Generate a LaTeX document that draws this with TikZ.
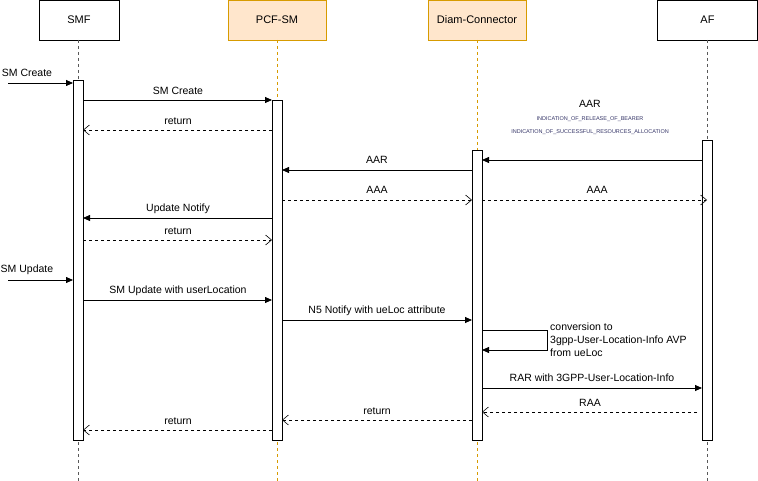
\documentclass[tikz,border=0pt]{standalone}
\usepackage{fontspec}
\setmainfont{Liberation Sans}
\usetikzlibrary{arrows.meta}
\definecolor{pfill}{HTML}{FFE6CC}
\definecolor{pdraw}{HTML}{D79B00}
\definecolor{small}{HTML}{333366}
\begin{document}
\begin{tikzpicture}[x=1pt,y=-1pt,font=\fontsize{11}{13}\selectfont,
 hdr/.style={draw,minimum width=80pt,minimum height=40pt,inner sep=0,fill=white},
 bar/.style={draw,fill=white,minimum width=10pt,inner sep=0},
 life/.style={dash pattern=on 3pt off 3pt,thin,gray!70!black},
 msg/.style={-{Triangle[length=7pt,width=6pt]},line width=0.8pt},
 ret/.style={-{Straight Barb[length=6pt,width=10pt]},dash pattern=on 3pt off 3pt,line width=0.6pt},
 lbl/.style={font=\fontsize{10.5}{12}\selectfont,inner sep=1pt}]
\useasboundingbox (0,0) rectangle (758,481);
\node[hdr] (smf) at (79,20) {SMF};
\node[hdr,fill=pfill,draw=pdraw,minimum width=98pt] (pcf) at (277,20) {PCF-SM};
\node[hdr,fill=pfill,draw=pdraw,minimum width=98pt] (dia) at (477,20) {Diam-Connector};
\node[hdr,minimum width=100pt] (af) at (707.5,20) {AF};
\draw[life] (78,40) -- (78,481);
\draw[life,pdraw] (277,40) -- (277,481);
\draw[life,pdraw] (477,40) -- (477,481);
\draw[life] (707,40) -- (707,481);
\node[bar,minimum height=360pt] (b1) at (78,260) {};
\node[bar,minimum height=340pt] (b2) at (277,270) {};
\node[bar,minimum height=290pt] (b3) at (477,295) {};
\node[bar,minimum height=300pt] (b4) at (707,290) {};
\coordinate (s1) at (8,83); \coordinate (t1) at (73,83);
\draw[msg] (s1) -- (t1); \node[lbl] at (27,73) {SM Create};
\draw[msg] (83,100) -- (272,100); \node[lbl] at (178,91) {SM Create};
\draw[ret] (272,130) -- (83,130); \node[lbl] at (178,121) {return};
\node[lbl] at (590,104) {AAR};
\node[font=\fontsize{5.5}{6}\selectfont,text=small] at (590,119) {INDICATION\_OF\_RELEASE\_OF\_BEARER};
\node[font=\fontsize{5.5}{6}\selectfont,text=small] at (590,132) {INDICATION\_OF\_SUCCESSFUL\_RESOURCES\_ALLOCATION};
\draw[msg] (702,160) -- (482,160);
\draw[msg] (472,170) -- (282,170); \node[lbl] at (377,160) {AAR};
\draw[ret] (282,200) -- (472,200); \node[lbl] at (377,190) {AAA};
\draw[ret] (482,200) -- (707,200); \node[lbl] at (597,190) {AAA};
\draw[msg] (272,218) -- (83,218); \node[lbl] at (178,209) {Update Notify};
\draw[ret] (83,240) -- (272,240); \node[lbl] at (178,231) {return};
\draw[msg] (8,280) -- (73,280); \node[lbl] at (27,270) {SM Update};
\draw[msg] (83,300) -- (272,300); \node[lbl] at (178,291) {SM Update with userLocation};
\draw[msg] (282,320) -- (472,320); \node[lbl] at (377,311) {N5 Notify with ueLoc attribute};
\draw[msg] (482,330) -- (547,330) -- (547,350) -- (482,350);
\node[lbl,align=left,anchor=west,font=\fontsize{10.5}{13}\selectfont] at (549,340) {conversion to\\3gpp-User-Location-Info AVP\\from ueLoc};
\draw[msg] (482,388) -- (702,388); \node[lbl] at (592,378) {RAR with 3GPP-User-Location-Info};
\draw[ret] (697,412) -- (482,412); \node[lbl] at (590,403) {RAA};
\draw[ret] (472,420) -- (282,420); \node[lbl] at (377,411) {return};
\draw[ret] (272,430) -- (83,430); \node[lbl] at (178,421) {return};
\end{tikzpicture}
\end{document}
